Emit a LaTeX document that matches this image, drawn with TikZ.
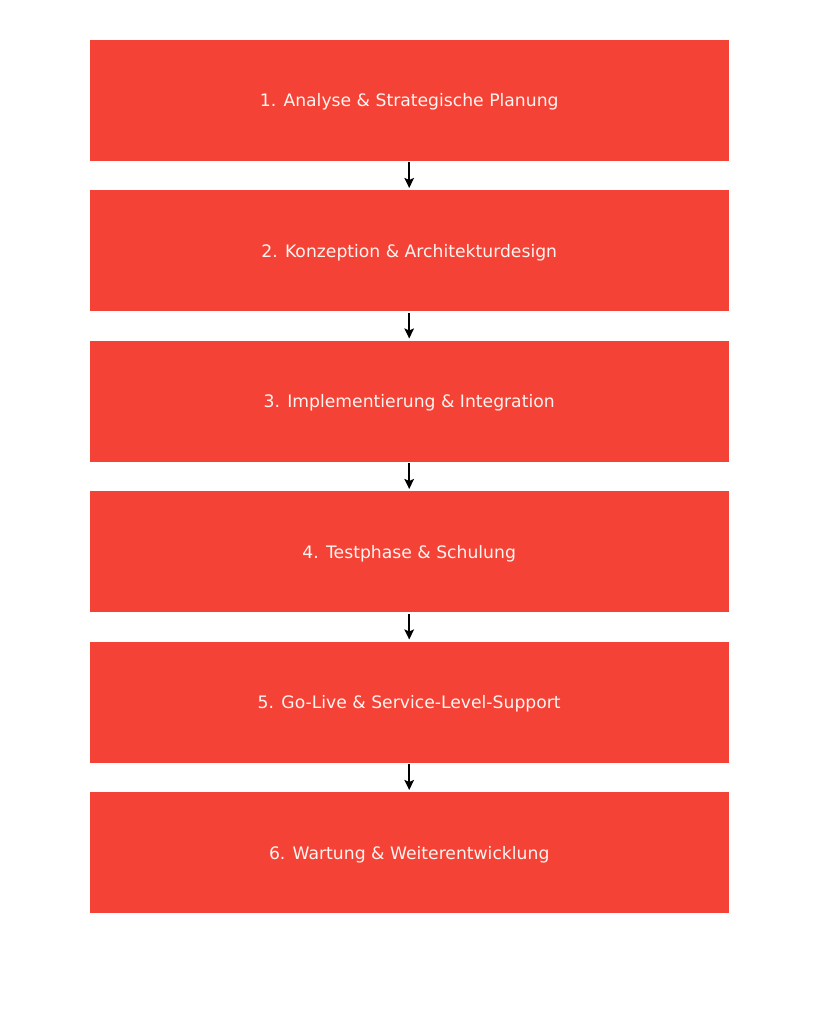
\documentclass[tikz,border=0pt]{standalone}
\usepackage{fontspec}
\setmainfont{DejaVu Sans}
\usetikzlibrary{arrows.meta}
\definecolor{boxred}{HTML}{F44336}
\definecolor{boxtext}{HTML}{FFF3F0}
\tikzset{
  stepbox/.style={fill=boxred, draw=none, minimum width=639pt, minimum height=121pt, inner sep=0pt,
    text=boxtext, font=\fontsize{17.2}{20}\selectfont, text height=14pt, text depth=1pt, anchor=north west},
  flowarrow/.style={-{Stealth[length=10pt,width=9.5pt,inset=2pt]}, line width=2.4pt, black, shorten >=2pt, shorten <=1.5pt}
}
\begin{document}
\begin{tikzpicture}[x=1pt,y=-1pt]
\useasboundingbox (0,0) rectangle (818,1024);
\node[stepbox] (b1) at (89.5,39.5) {1. Analyse \& Strategische Planung};
\node[stepbox] (b2) at (89.5,190) {2. Konzeption \& Architekturdesign};
\node[stepbox] (b3) at (89.5,340.5) {3. Implementierung \& Integration};
\node[stepbox] (b4) at (89.5,491) {4. Testphase \& Schulung};
\node[stepbox] (b5) at (89.5,641.5) {5. Go-Live \& Service-Level-Support};
\node[stepbox] (b6) at (89.5,792) {6. Wartung \& Weiterentwicklung};
\foreach \a/\b in {b1/b2,b2/b3,b3/b4,b4/b5,b5/b6}
  \draw[flowarrow] (\a.south) -- (\b.north);
\end{tikzpicture}
\end{document}
